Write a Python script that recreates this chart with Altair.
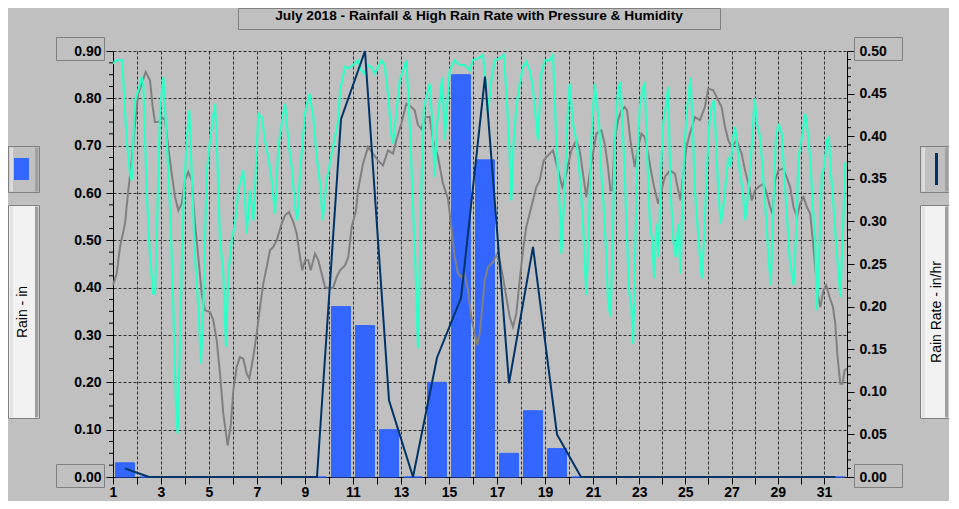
import altair as alt
import pandas as pd

# ---------------- data ----------------
days = list(range(1, 32))
rain_in = [0.03, 0, 0, 0, 0, 0, 0, 0, 0, 0.36, 0.32, 0.10, 0, 0.20, 0.85, 0.67,
           0.05, 0.14, 0.06, 0, 0, 0, 0, 0, 0, 0, 0, 0, 0, 0, 0]
rate_inhr = [0.01, 0, 0, 0, 0, 0, 0, 0, 0, 0.42, 0.50, 0.09, 0, 0.14, 0.21, 0.47,
             0.11, 0.27, 0.05, 0, 0, 0, 0, 0, 0, 0, 0, 0, 0, 0, 0]

# hours since July 1 00:00
hum_hours = [0, 3, 9, 10.3, 13.7, 17, 18.7, 20.3, 22, 25.3, 28.7, 30.3, 33.7, 37, 40.3, 42, 43.7, 47,
             50.3, 53.7, 57, 60.3, 63, 64.7, 67, 70.3, 73.7, 76.3, 78.7, 82, 85.3, 88, 90.3, 93.7, 97,
             102, 103.7, 107, 110.3, 113, 115.3, 118.7, 122, 125.3, 130.3, 133.7, 137, 140.3, 142,
             145.3, 148.7, 152, 155.3, 158.7, 162, 165.3, 168.7, 172, 175.3, 178.7, 182, 184.3, 187,
             192, 196.3, 200.3, 203.7, 207, 209.7, 213.7, 218.7, 222, 225.3, 227, 232, 236,
             241.7, 245, 248.3, 251.7, 255, 258.3, 261.7, 265, 268.3, 271.7, 275, 278.3, 280, 283.3,
             286.7, 290, 293.3, 295, 296.7, 300, 302.7, 305, 306.7, 308.3, 310.7, 313.3, 316.7, 319.3,
             321.7, 324, 326.7, 329.3, 331.7, 334, 336.7, 341.7, 346.7, 351.7, 356.7, 360, 365, 370,
             373.3, 375, 378.3, 381.7, 386.7, 390.7, 393.3, 396, 398.3, 400.7, 403.3, 406.7, 410,
             413.3, 416.7, 419.3, 422.7, 425, 428.3, 431.7, 436.7, 440, 443.3, 446.7, 448.3, 451.7,
             455, 456.7, 460, 463.3, 466.7, 470, 473.3, 476, 478.3, 481.7,
             486.3, 488.7, 491.1, 493.9, 495.6, 498.1, 500.1, 502.6, 506, 508.5, 510.6, 513, 515.4,
             517.5, 519.9, 521.7, 524.1, 526.2, 528.6, 531.4, 533.8, 536.3, 539, 541.5, 543.6, 546,
             548.4, 550.5, 552.9, 555.7, 558.1, 560.6, 563.4, 566.1, 568.6, 571, 573.1, 575.5, 577.9,
             581.4, 583.5, 585.9, 588.4, 591.1, 593.2, 595.7, 598.1, 600.9, 603.3, 605.7, 607.8,
             610.2, 612.7, 615.4, 618.2, 620.7, 623.1, 625.2, 627.6, 630, 632.8, 635.6, 638, 640.5,
             643.2, 645.7, 648.1, 650.2, 653, 655.4, 657.8, 660.6, 662.3, 664.8, 667.5, 670, 672.8,
             676.2, 679.7, 682.1, 684.2, 686.6, 688.4, 690.8, 693.6, 697.1, 700.5, 703, 705.7, 708.5,
             710.9, 712.7, 715.5, 717.9, 720.3, 723.1, 725.2, 727.3, 730.1, 732.8, 735.3, 737, 739.4,
             742.2, 743.9]
humidity_pct = [98.1, 98.6, 98.6, 95.6, 86.6, 81.6, 80.6, 86.6, 92.6, 94.1, 96.1, 95.1, 79.1, 69.1, 63.6,
                63.6, 71.6, 91.1, 96.1, 86.6, 76.6, 61.6, 46.6, 42.6, 56.6, 76.6, 86.6, 91.1, 81.6, 69.1,
                61.6, 53.1, 61.6, 81.6, 86.6, 92.1, 86.6, 71.6, 66.6, 55.6, 66.6, 71.6, 74.1, 79.1, 82.1,
                72.6, 79.1, 74.6, 79.1, 90.6, 90.1, 86.6, 84.1, 80.6, 75.6, 85.6, 89.1, 92.1, 86.6, 82.6,
                76.6, 74.6, 81.6, 90.6, 93.6, 90.1, 84.1, 80.1, 74.6, 80.6, 84.6, 87.1, 89.6, 94.1, 97.6,
                97.4,
                98.1, 98.6, 97.1, 96.6, 97.9, 97.6, 96.6, 97.6, 98.6, 97.9, 93.6, 87.6, 86.1, 90.6, 95.6,
                97.1, 98.6, 94.1, 89.1, 76.6, 66.6, 55.4, 66.6, 79.1, 91.1, 93.1, 95.1, 89.1, 81.1, 89.1,
                92.6, 96.1, 86.6, 91.6, 97.1, 98.6, 97.9, 97.9, 97.1, 98.6, 98.9, 99.4, 94.1, 90.6, 95.6,
                98.6, 98.9, 99.4, 94.1, 86.6, 77.6, 86.6, 91.6, 95.1, 97.6, 98.4, 97.1, 95.1, 90.1, 86.6,
                96.6, 98.6, 98.6, 99.4, 86.6, 76.6, 69.6, 79.1, 91.6, 95.1, 89.1, 86.6, 81.6, 74.1, 63.4,
                74.1, 86.6, 95.1,
                89.1, 81.6, 76.6, 69.1, 62.6, 60.1, 69.1, 86.6, 94.1, 95.4, 89.1, 81.6, 71.6, 64.1, 61.6,
                56.1, 71.6, 84.1, 91.6, 94.1, 95.4, 84.1, 74.6, 71.6, 65.9, 74.1, 69.1, 81.6, 89.1, 91.6,
                94.6, 79.1, 71.6, 69.1, 74.1, 66.6, 79.1, 86.6, 91.6, 96.1, 89.1, 79.1, 74.1, 69.1, 65.9,
                72.6, 81.6, 89.1, 91.6, 92.6, 86.6, 79.1, 74.1, 76.6, 80.6, 84.1, 82.6, 86.6, 88.6, 85.6,
                81.6, 79.1, 74.6, 77.6, 81.6, 87.6, 92.9, 89.1, 87.6, 84.1, 79.1, 73.6, 69.1, 64.9, 76.6,
                86.6, 89.1, 87.6, 79.1, 74.1, 69.1, 66.6, 64.9, 71.6, 84.1, 87.1, 90.6, 88.1, 84.1, 76.6,
                71.6, 61.1, 71.6, 81.6, 82.6, 86.6, 87.1, 81.6, 76.6, 70.6, 66.6, 63.1, 71.6, 83.1, 83.1]

pres_hours = [0, 3.7, 7, 12, 15.3, 18.7, 22, 25.3, 28.7, 32.7, 37, 39.7, 42, 45.3, 48.7, 52, 55.3, 58.7,
              62, 65.3, 68.7, 72, 75.3, 78.7, 82, 85.3, 88.7, 92, 97, 100.3, 103.7, 107, 110.3, 114.7,
              118, 120.3, 123.7, 127, 130.3, 133.7, 136.3, 140.3, 143.7, 147, 150.3, 153.7, 157, 160.3,
              163.7, 168.7, 172, 176, 180.3, 183.7, 187, 189.3, 192, 195.3, 197.7, 202, 205.3, 208.7,
              212, 217, 220.3, 223.7, 227, 232, 235.3, 238.7, 243,
              245, 250, 255, 260, 265, 270, 275, 280, 283.3, 288.3, 293.3, 298.3, 301.7, 305, 308.3,
              312.7, 316.7, 320, 325, 330, 335, 338.3, 341.7, 345, 348.3, 351.7, 355, 358.3, 361.7,
              364.3, 366.7, 369.3, 371.7, 375, 380, 383.3, 386.7, 390, 393.3, 396.7, 400, 403.3, 406.7,
              410, 413.3, 418.3, 423.3, 426.7, 430.7, 435, 440, 445, 449.3, 453.3, 458.3, 463.3, 466.7,
              470, 473.3, 476.7, 480,
              483.5, 488.7, 492.2, 495.6, 498.1, 500.1, 502.6, 506, 509.5, 513, 515.4, 518.9, 523.4,
              526.9, 530.4, 533.8, 537.3, 540.8, 544.3, 547.7, 551.2, 554.7, 559.9, 565.1, 568.6, 571,
              573.8, 577.2, 580.7, 585.9, 591.1, 596.3, 599.8, 605, 610.2, 613.7, 617.2, 620.7, 624.1,
              629.3, 634.5, 638, 642.5, 645, 648.4, 651.9, 657.1, 660.6, 664.1, 666.5, 669.3, 672.8,
              677.3, 681.4, 684.9, 688.4, 691.9, 695.3, 698.8, 702.3, 705.7, 708.5, 710.9, 713.4,
              716.2, 719.6, 722.4, 725.9, 729.4, 731.8, 734.2, 737, 739.4, 741.5, 743.9]
pressure_mb = [1013.75, 1014.1, 1014.9, 1015.6, 1016.6, 1017.5, 1018.6, 1019.5, 1019.8, 1020.15, 1019.9,
               1019.1, 1018.65, 1018.65, 1018.8, 1018.7, 1017.9, 1017.1, 1016.4, 1016.0, 1016.2, 1016.9,
               1017.15, 1016.9, 1015.6, 1014.6, 1013.5, 1013.0, 1012.95, 1012.7, 1012.1, 1011.1, 1009.9,
               1008.95, 1009.6, 1010.6, 1011.3, 1011.6, 1011.55, 1011.1, 1010.95, 1011.6, 1012.3, 1013.1,
               1013.8, 1014.3, 1014.8, 1014.9, 1015.1, 1015.6, 1015.85, 1015.95, 1015.65, 1015.3, 1014.6,
               1014.2, 1014.5, 1014.5, 1014.2, 1014.7, 1014.5, 1014.1, 1013.7, 1013.65, 1013.7, 1014.0,
               1014.2, 1014.35, 1014.6, 1015.5, 1016.0,
               1016.6, 1017.4, 1017.9, 1017.7, 1017.5, 1017.35, 1017.8, 1017.7, 1018.1, 1018.6, 1019.2,
               1019.1, 1019.0, 1018.55, 1018.45, 1018.8, 1018.8, 1018.1, 1017.6, 1016.8, 1016.35, 1015.5,
               1014.6, 1014.1, 1014.0, 1014.1, 1013.6, 1012.8, 1012.3, 1011.95, 1012.3, 1013.1, 1013.9,
               1014.3, 1014.45, 1014.65, 1014.5, 1014.0, 1013.4, 1012.8, 1012.5, 1012.9, 1013.9, 1014.8,
               1015.5, 1016.1, 1016.7, 1016.9, 1017.5, 1017.65, 1017.8, 1017.2, 1016.7, 1017.1, 1017.8,
               1018.1, 1017.8, 1017.1, 1016.4, 1017.1, 1017.7,
               1018.3, 1018.4, 1018.0, 1017.3, 1016.6, 1016.6, 1018.1, 1018.7, 1019.0, 1019.1, 1019.0,
               1018.1, 1017.3, 1017.9, 1018.3, 1018.2, 1017.7, 1017.1, 1016.6, 1016.2, 1016.6, 1017.0,
               1017.2, 1017.1, 1016.6, 1016.3, 1017.1, 1017.9, 1018.3, 1018.8, 1018.7, 1019.1, 1019.65,
               1019.6, 1019.3, 1019.1, 1018.5, 1018.1, 1017.9, 1018.1, 1017.7, 1017.2, 1016.7, 1016.3,
               1016.6, 1016.7, 1016.8, 1016.5, 1016.1, 1015.9, 1016.9, 1017.2, 1017.25, 1017.0, 1016.7,
               1016.1, 1015.8, 1016.2, 1016.4, 1016.1, 1015.9, 1015.1, 1014.3, 1013.5, 1013.1, 1013.6,
               1013.75, 1013.4, 1013.1, 1012.6, 1011.6, 1010.8, 1010.8, 1011.2, 1011.25]

title_text = "July 2018 - Rainfall & High Rain Rate with Pressure & Humidity"
left_title = "Rain - in"
right_title = "Rain Rate - in/hr"

# ---------------- styling ----------------
BG = "#C0C0C0"
BLUE = "#3366FF"
NAVY = "#003366"
CYAN = "#2EFFC8"
GRAY = "#808080"
GRID = "#303030"
FONT = "Liberation Sans"
W, H = 734, 426

xscale = alt.Scale(domain=[0, 480, 744], range=[0, 480, 734])
xaxis = alt.Axis(values=list(range(0, 721, 24)),
                 labelExpr="datum.value % 48 == 0 ? format(datum.value / 24 + 1, 'd') : ''",
                 grid=True, gridDash=[3, 2], gridColor=GRID, tickSize=7, labelPadding=1,
                 labelFlush=False, labelOverlap=False, title=None)

rain_scale = alt.Scale(domain=[0, 0.9], nice=False, zero=True)
rate_scale = alt.Scale(domain=[0, 0.5], nice=False, zero=True)

left_axis = alt.Axis(values=[round(i * 0.1, 1) for i in range(10)], format=".2f", orient="left",
                     grid=True, gridDash=[3, 2], gridColor=GRID, tickSize=7, labelPadding=5, title=None)
right_axis = alt.Axis(values=[round(i * 0.05, 2) for i in range(11)], format=".2f", orient="right",
                      grid=False, tickSize=7, labelPadding=5, title=None)


def xenc(field):
    return alt.X(field, scale=xscale, axis=xaxis)


rain_df = pd.DataFrame({"day": days, "rain": rain_in})
rate_df = pd.DataFrame({"day": days, "rate": rate_inhr})
hum_df = pd.DataFrame({"hour": hum_hours, "humidity": humidity_pct})
pres_df = pd.DataFrame({"hour": pres_hours, "pressure": pressure_mb})

bars = alt.Chart(rain_df).transform_calculate(
    h0="(datum.day - 1) * 24 + 2.5", h1="(datum.day - 1) * 24 + 21.5"
).mark_rect(color=BLUE, stroke=BLUE, strokeWidth=1).encode(
    x=xenc("h0:Q"), x2="h1:Q",
    y=alt.Y("rain:Q", scale=rain_scale, axis=left_axis),
    y2=alt.datum(0),
)

pres = alt.Chart(pres_df).mark_line(color=GRAY, strokeWidth=2).encode(
    x=xenc("hour:Q"),
    y=alt.Y("pressure:Q", scale=alt.Scale(domain=[1008, 1020.78], nice=False, zero=False), axis=None),
)

hum = alt.Chart(hum_df).mark_line(color=CYAN, strokeWidth=2.2).encode(
    x=xenc("hour:Q"),
    y=alt.Y("humidity:Q", scale=alt.Scale(domain=[36.1, 100], nice=False, zero=False), axis=None),
)

rate = alt.Chart(rate_df).transform_calculate(
    hour="(datum.day - 1) * 24 + 12"
).mark_line(color=NAVY, strokeWidth=2).encode(
    x=xenc("hour:Q"),
    y=alt.Y("rate:Q", scale=rate_scale, axis=right_axis),
)

# minor ticks
left_minor = pd.DataFrame({"v": [round(i * 0.025, 3) for i in range(37) if i % 4 != 0]})
right_minor = pd.DataFrame({"v": [round(i * 0.01, 2) for i in range(51) if i % 5 != 0]})
lminor = alt.Chart(left_minor).mark_rule(color="black", strokeWidth=1).encode(
    y=alt.Y("v:Q", scale=rain_scale, axis=None), x=alt.value(-4), x2=alt.value(0))
rminor = alt.Chart(right_minor).mark_rule(color="black", strokeWidth=1).encode(
    y=alt.Y("v:Q", scale=rate_scale, axis=None), x=alt.value(W), x2=alt.value(W + 4))

one = alt.Data(values=[{}])


def rect(x1, x2, y1, y2, fill=None, stroke=None):
    kw = {}
    if fill is not None:
        kw["fill"] = fill
    else:
        kw["fillOpacity"] = 0
        kw["fill"] = BG
    if stroke is not None:
        kw["stroke"] = stroke
        kw["strokeWidth"] = 1
    return alt.Chart(one).mark_rect(**kw).encode(
        x=alt.value(x1), x2=alt.value(x2), y=alt.value(y1), y2=alt.value(y2))


OX, OY = 113, 51  # plot origin on the page


def px(X):
    return X - OX


def py(Y):
    return Y - OY


decor = []
# title box + text
decor.append(rect(px(238.5), px(720.5), py(8.5), py(29.5), stroke=GRAY))
decor.append(alt.Chart(one).mark_text(text=title_text, font=FONT, fontSize=13.7, fontWeight="bold",
                                      color="black", align="center", baseline="alphabetic").encode(
    x=alt.value(px(479)), y=alt.value(py(20))))
# boxes around extreme axis labels
for (x1, x2) in [(56.5, 104.5), (854.5, 902.5)]:
    decor.append(rect(px(x1), px(x2), py(37.5), py(60.5), stroke=GRAY))
    decor.append(rect(px(x1), px(x2), py(464.5), py(487.5), stroke=GRAY))


def legend_side(x1, x2):
    items = []
    # icon box
    items.append(rect(px(x1), px(x2), py(146.5), py(192.5), fill=BG, stroke=GRAY))
    items.append(rect(px(x1 + 1), px(x1 + 4.5), py(147.5), py(191.5), fill="#DCDCDC"))
    items.append(rect(px(x2 - 4.5), px(x2 - 1), py(147.5), py(191.5), fill="#A0A0A0"))
    # title box
    items.append(rect(px(x1), px(x2), py(205.5), py(418.5), fill="#F2F2F2", stroke=GRAY))
    items.append(rect(px(x1 + 1), px(x1 + 4.5), py(206.5), py(417.5), fill="#E2E2E2"))
    items.append(rect(px(x2 - 4.5), px(x2 - 1), py(206.5), py(417.5), fill="#A0A0A0"))
    return items


decor += legend_side(8.5, 39.5)
decor += legend_side(920.5, 949.5)
# legend symbols
decor.append(alt.Chart(one).mark_rect(fill=BLUE).encode(
    x=alt.value(px(14)), x2=alt.value(px(29)), y=alt.value(py(158)), y2=alt.value(py(180))))
decor.append(alt.Chart(one).mark_rule(color=NAVY, strokeWidth=3).encode(
    x=alt.value(px(936.5)), y=alt.value(py(153)), y2=alt.value(py(185))))
# vertical titles
decor.append(alt.Chart(one).mark_text(text=left_title, font=FONT, fontSize=14, color="black",
                                      angle=270, align="center", baseline="middle").encode(
    x=alt.value(px(23)), y=alt.value(py(312))))
decor.append(alt.Chart(one).mark_text(text=right_title, font=FONT, fontSize=14, color="black",
                                      angle=270, align="center", baseline="middle").encode(
    x=alt.value(px(936.5)), y=alt.value(py(312))))

chart = alt.layer(bars, pres, hum, rate, lminor, rminor, *decor).resolve_scale(
    y="independent"
).properties(
    width=W, height=H,
    autosize=alt.AutoSizeParams(type="none"),
    padding={"left": 105, "top": 43, "right": 102, "bottom": 24},
    background=BG,
).configure_view(strokeWidth=0).configure_axis(
    labelFont=FONT, labelFontSize=14, labelFontWeight="bold", labelColor="black",
    tickColor="black", domainColor="black", domainWidth=1, tickWidth=1,
)

chart.save("out.html", embed_options={"renderer": "svg", "actions": False})
